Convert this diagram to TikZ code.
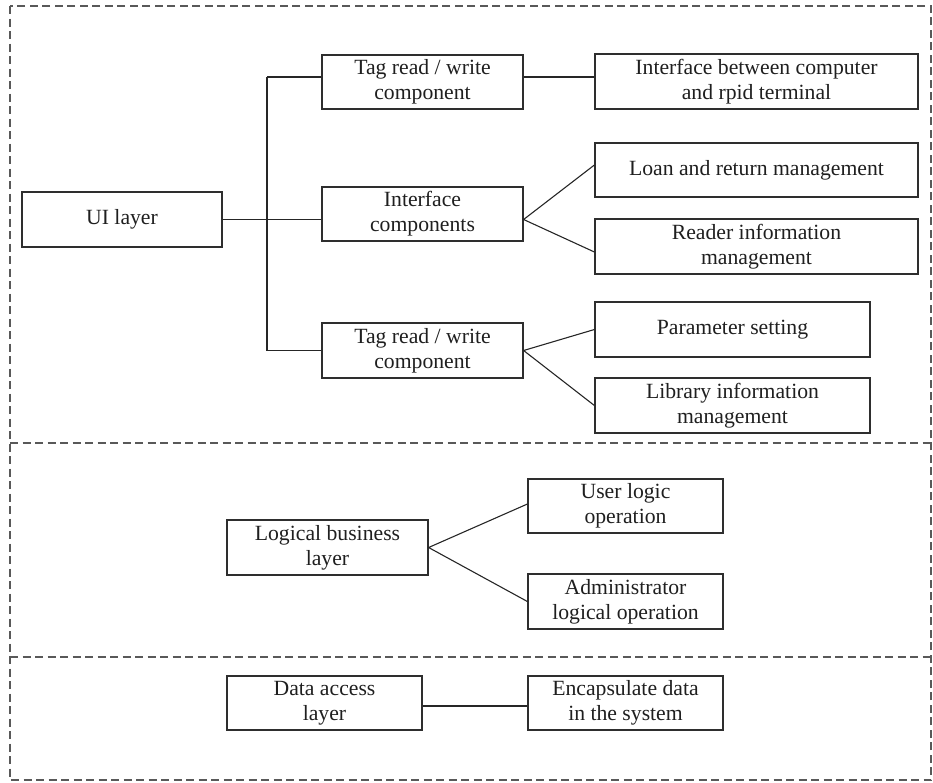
\documentclass[tikz,border=0pt]{standalone}
\usepackage{fontspec}
\setmainfont{Liberation Serif}
\begin{document}
\begin{tikzpicture}[x=1pt,y=-1pt,
  box/.style={draw=black!82, line width=1.2pt, rectangle, inner sep=0pt, align=center,
    text=black!88, font=\fontsize{21.7}{25}\selectfont},
  link/.style={draw=black!85, line width=1.1pt},
  sep/.style={draw=black!65, line width=1.1pt, dash pattern=on 8pt off 4.5pt}]
\useasboundingbox (0,0) rectangle (933,782);
% layer frames
\draw[sep] (10,6) rectangle (931,780);
\draw[sep] (10,443) -- (931,443);
\draw[sep] (10,657) -- (931,657);
% boxes
\node[box, minimum width=200pt, minimum height=55pt] (ui) at (122,219.5) {UI layer};
\node[box, minimum width=201pt, minimum height=54pt] (tag1) at (422.5,82) {Tag read / write\\component};
\node[box, minimum width=201pt, minimum height=54pt] (ic) at (422.5,214) {Interface\\components};
\node[box, minimum width=201pt, minimum height=55pt] (tag2) at (422.5,350.5) {Tag read / write\\component};
\node[box, minimum width=323pt, minimum height=55pt] (ibc) at (756.5,81.5) {Interface between computer\\and rpid terminal};
\node[box, minimum width=323pt, minimum height=54pt] (loan) at (756.5,170) {Loan and return management};
\node[box, minimum width=323pt, minimum height=55pt] (reader) at (756.5,246.5) {Reader information\\management};
\node[box, minimum width=275pt, minimum height=55pt] (param) at (732.5,329.5) {Parameter setting};
\node[box, minimum width=275pt, minimum height=55pt] (lib) at (732.5,405.5) {Library information\\management};
\node[box, minimum width=201pt, minimum height=55pt] (logic) at (327.5,547.5) {Logical business\\layer};
\node[box, minimum width=195pt, minimum height=54pt] (user) at (625.5,506) {User logic\\operation};
\node[box, minimum width=195pt, minimum height=55pt] (admin) at (625.5,601.5) {Administrator\\logical operation};
\node[box, minimum width=195pt, minimum height=54pt] (data) at (324.5,703) {Data access\\layer};
\node[box, minimum width=195pt, minimum height=54pt] (enc) at (625.5,703) {Encapsulate data\\in the system};
% trunk coordinates
\coordinate (tk1) at (267,77);
\coordinate (tk2) at (267,350.5);
% connectors
\draw[link] (ui.east) -- (ic.west |- ui.east);
\draw[link] (tk1) -- (tk2);
\draw[link] (tk1) -- (tag1.west |- tk1);
\draw[link] (tk2) -- (tag2.west);
\draw[link] (tag1.east |- tk1) -- (ibc.west |- tk1);
\coordinate (icout) at (ic.east |- ui.east);
\draw[link] ([yshift=5pt]loan.west) -- (icout) -- ([yshift=-5.5pt]reader.west);
\draw[link] (param.west) -- (tag2.east) -- (lib.west);
\draw[link] ([yshift=2pt]user.west) -- (logic.east) -- (admin.west);
\draw[link] ([yshift=-3pt]data.east) -- ([yshift=-3pt]enc.west);
\end{tikzpicture}
\end{document}
